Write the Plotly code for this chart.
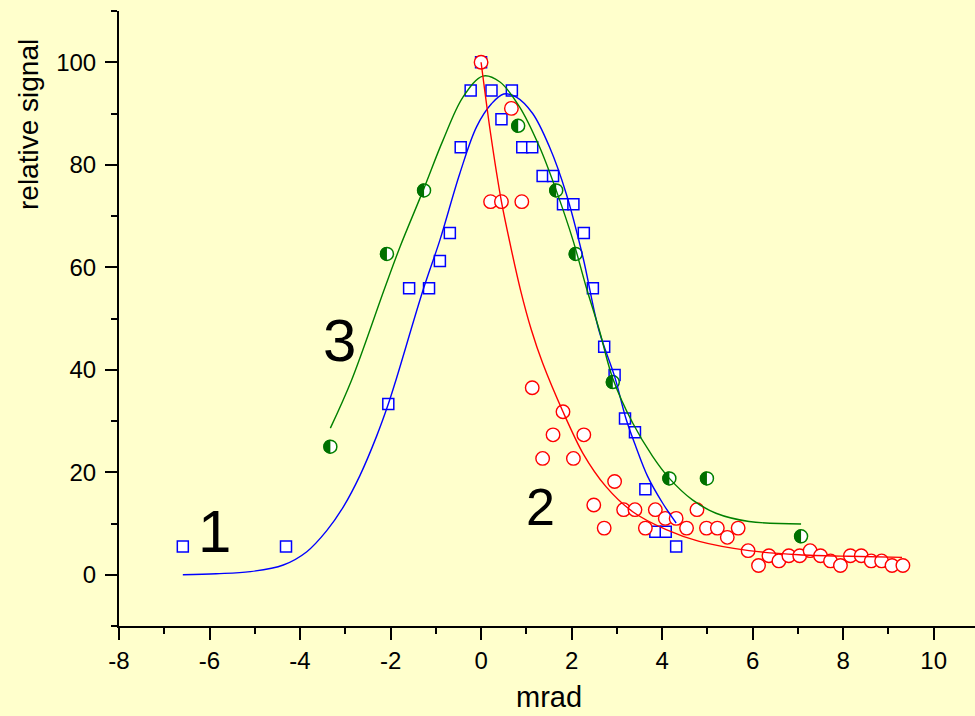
import numpy as np
import plotly.graph_objects as go

# ---- data ----
# series 1 (blue squares)
blue_x = [-6.59, -4.31, -2.05, -1.59, -1.15, -0.91, -0.69, -0.45, -0.23, 0.00, 0.23, 0.45, 0.68,
          0.91, 1.13, 1.36, 1.59, 1.81, 2.04, 2.27, 2.47, 2.72, 2.95, 3.18, 3.40, 3.63, 3.85, 4.08, 4.31]
blue_y = [5.5, 5.5, 33.3, 55.9, 55.9, 61.2, 66.7, 83.4, 94.5, 100.0, 94.5, 88.9, 94.5,
          83.4, 83.4, 77.8, 77.8, 72.3, 72.3, 66.7, 55.9, 44.5, 39.0, 30.5, 27.8, 16.7, 8.4, 8.4, 5.5]

# series 2 (red circles)
red_x = [0.00, 0.21, 0.45, 0.67, 0.90, 1.13, 1.36, 1.59, 1.81, 2.04, 2.27, 2.49, 2.72, 2.95, 3.15,
         3.40, 3.63, 3.85, 4.07, 4.31, 4.54, 4.77, 4.98, 5.22, 5.44, 5.68, 5.90, 6.13, 6.36, 6.58,
         6.80, 7.04, 7.27, 7.50, 7.72, 7.94, 8.16, 8.40, 8.62, 8.85, 9.08, 9.32]
red_y = [100.0, 72.8, 72.8, 91.0, 72.8, 36.5, 22.7, 27.3, 31.8, 22.7, 27.3, 13.6, 9.1, 18.2, 12.7,
         12.7, 9.1, 12.7, 11.0, 11.0, 9.1, 12.7, 9.1, 9.1, 7.3, 9.1, 4.7, 1.8, 3.7, 2.7,
         3.7, 3.7, 4.7, 3.7, 2.7, 1.8, 3.7, 3.7, 2.7, 2.7, 1.8, 1.8]

# series 3 (green half-filled circles)
green_x = [-3.33, -2.08, -1.26, 0.82, 1.66, 2.09, 2.91, 4.16, 4.99, 7.07]
green_y = [25.0, 62.6, 75.0, 87.6, 75.0, 62.6, 37.6, 18.8, 18.8, 7.5]

# fitted curves, points
blue_fit_x = [-6.59, -5.85, -5.10, -4.37, -3.85, -3.41, -3.04, -2.68, -2.31, -2.05, -1.87, -1.28,
              -0.91, -0.47, -0.10, 0.23, 0.50, 0.78, 1.14, 1.51, 1.88, 2.25, 2.60, 2.95, 3.20,
              3.42, 3.68, 4.01, 4.31]
blue_fit_y = [0.0, 0.2, 0.6, 1.9, 4.5, 8.6, 13.3, 19.3, 27.0, 33.3, 38.3, 55.6,
              65.3, 78.3, 87.4, 91.9, 93.8, 93.2, 90.0, 83.5, 74.4, 62.0, 47.8, 38.7, 30.5,
              25.0, 19.2, 14.0, 10.1]

green_fit_x = [-3.33, -2.86, -2.13, -1.79, -1.28, -0.84, -0.40, 0.04, 0.41, 0.85, 1.29, 1.66,
               2.03, 2.32, 2.61, 2.91, 3.35, 3.79, 4.16, 4.67, 5.19, 5.92, 7.07]
green_fit_y = [28.6, 38.0, 55.9, 64.0, 75.0, 84.8, 93.2, 97.3, 96.2, 91.3, 83.5, 75.0,
               65.3, 56.2, 47.8, 38.3, 29.6, 23.1, 18.8, 14.6, 12.0, 10.4, 9.9]

red_fit_x = [0.00, 0.21, 0.45, 0.67, 0.87, 1.11, 1.36, 1.81, 2.25, 2.76, 3.35, 4.09, 4.82,
             5.92, 7.02, 8.13, 9.30]
red_fit_y = [100.0, 86.1, 72.8, 63.4, 55.6, 47.8, 41.3, 31.8, 23.7, 17.2, 12.3, 8.8, 6.5,
             4.7, 3.9, 3.6, 3.4]

curve_labels = ["1", "2", "3"]
label_x = [-5.90, 1.32, -3.135]
label_y = [8.4, 13.2, 45.7]
label_size = [60, 52, 60]

x_ticks = [-8, -6, -4, -2, 0, 2, 4, 6, 8, 10]
y_ticks = [0, 20, 40, 60, 80, 100]

BLUE = "#0000FF"
RED = "#FF0000"
GREEN = "#008000"
DARKGREEN = "#007000"
BG = "#FFFFCC"
FONT = "Liberation Sans, Arial, sans-serif"

fig = go.Figure()

# markers
fig.add_trace(go.Scatter(x=blue_x, y=blue_y, mode="markers",
                         marker=dict(symbol="square", size=11, color="white",
                                     line=dict(color=BLUE, width=1.5))))
fig.add_trace(go.Scatter(x=green_x, y=green_y, mode="markers",
                         marker=dict(symbol="circle", size=13, color="white",
                                     line=dict(color=GREEN, width=1.5))))
fig.add_trace(go.Scatter(x=red_x, y=red_y, mode="markers",
                         marker=dict(symbol="circle", size=13.5, color="white",
                                     line=dict(color=RED, width=1.4))))

# fitted lines
fig.add_trace(go.Scatter(x=blue_fit_x, y=blue_fit_y, mode="lines",
                         line=dict(color=BLUE, width=1.4, shape="spline", smoothing=1.0)))
fig.add_trace(go.Scatter(x=green_fit_x, y=green_fit_y, mode="lines",
                         line=dict(color=GREEN, width=1.4, shape="spline", smoothing=1.0)))
fig.add_trace(go.Scatter(x=red_fit_x, y=red_fit_y, mode="lines",
                         line=dict(color=RED, width=1.4, shape="spline", smoothing=0.8)))

# left-half fill of the green markers (glyph drawn in pixels around each data point)
r = 7.0
t = np.linspace(0, np.pi, 19)
half = "M " + " L ".join(f"{-r*np.sin(a):.2f},{r*np.cos(a):.2f}" for a in t) + " Z"
shapes = []
for gx, gy in zip(green_x, green_y):
    shapes.append(dict(type="path", xref="x", yref="y", xsizemode="pixel", ysizemode="pixel",
                       xanchor=gx, yanchor=gy, path=half, fillcolor=DARKGREEN,
                       line=dict(width=0), layer="above"))

annotations = []
for txt, lx, ly, ls in zip(curve_labels, label_x, label_y, label_size):
    annotations.append(dict(x=lx, y=ly, xref="x", yref="y", text=txt, showarrow=False,
                            font=dict(size=ls, color="black", family=FONT),
                            xanchor="center", yanchor="middle"))

W, H = 975, 716
L, R, T, B = 119, 0, 11, 90
pw, ph = W - L - R, H - T - B

annotations.append(dict(text="relative signal", xref="paper", yref="paper",
                        x=(28 - L) / pw, y=(H - B - 125) / ph, textangle=-90,
                        showarrow=False, xanchor="center", yanchor="middle",
                        font=dict(size=28, color="black", family=FONT)))
annotations.append(dict(text="mrad", xref="paper", yref="paper",
                        x=(549 - L) / pw, y=(H - B - 697) / ph,
                        showarrow=False, xanchor="center", yanchor="middle",
                        font=dict(size=29, color="black", family=FONT)))

fig.update_layout(
    width=W, height=H,
    margin=dict(l=L, r=R, t=T, b=B),
    paper_bgcolor=BG, plot_bgcolor=BG,
    showlegend=False,
    shapes=shapes,
    annotations=annotations,
    xaxis=dict(range=[-8, -8 + pw / 45.26], tickvals=x_ticks, ticktext=[str(v) for v in x_ticks],
               showgrid=False, zeroline=False, showline=True, linecolor="black", linewidth=2,
               ticks="outside", ticklen=12, tickwidth=2, tickcolor="black",
               minor=dict(dtick=1, tick0=0, ticks="outside", ticklen=6, tickwidth=2,
                          tickcolor="black", showgrid=False),
               tickfont=dict(size=24, color="black", family=FONT)),
    yaxis=dict(range=[-10, 110], tickvals=y_ticks, ticktext=[str(v) for v in y_ticks],
               showgrid=False, zeroline=False, showline=True, linecolor="black", linewidth=2,
               ticks="outside", ticklen=12, tickwidth=2, tickcolor="black",
               ticklabelstandoff=4,
               minor=dict(dtick=10, tick0=0, ticks="outside", ticklen=6, tickwidth=2,
                          tickcolor="black", showgrid=False),
               tickfont=dict(size=24, color="black", family=FONT)),
)

fig.write_html("out.html")
